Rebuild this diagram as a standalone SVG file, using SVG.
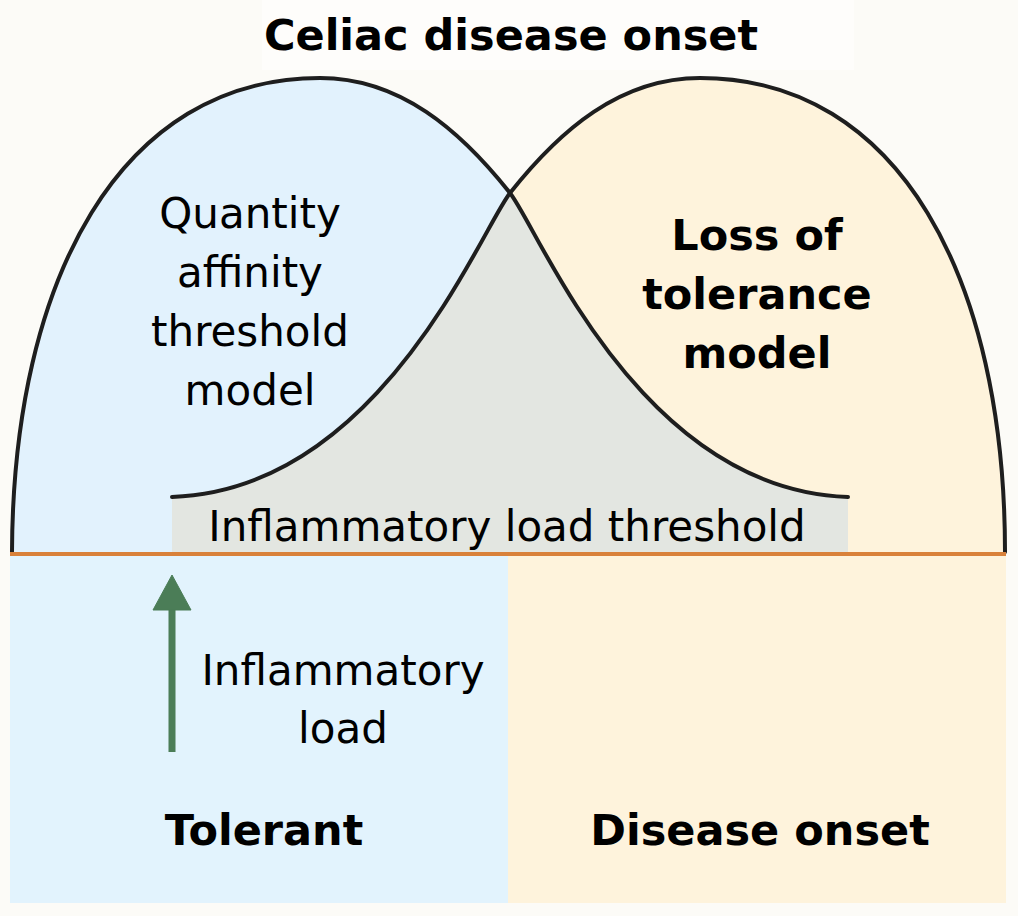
<svg xmlns="http://www.w3.org/2000/svg" width="1018" height="916" viewBox="0 0 1018 916">
<style>
.t{font-family:"DejaVu Sans","Liberation Sans",sans-serif;fill:#000;text-anchor:middle}
.n{font-size:42px}
.b{font-size:43px;font-weight:bold}
.curve{fill:none;stroke:#1e1e1e;stroke-width:4;stroke-linecap:round}
.green{fill:#4b7d57;stroke:#4b7d57}
</style>
<rect x="0" y="0" width="1018" height="916" fill="#fcfbf7"/>
<rect x="262" y="0" width="592" height="70" fill="#fefdfb"/>
<g id="title"><text class="t b" x="511" y="50">Celiac disease onset</text></g>
<g id="fills">
<path id="left-fill" d="M12,552 C13,280 120,78 320,78 C400,78 460,130 510,193 C540,231 640,490 848,497 L848,552 Z" fill="#e2f2fd"/>
<path id="right-fill" d="M1005,552 C1005,280 900,78 700,78 C620,78 560,130 510,193 C480,231 380,490 172,497 L172,552 Z" fill="#fef3dc"/>
<path id="overlap-fill" d="M172,497 C380,490 480,231 510,193 C540,231 640,490 848,497 L848,552 L172,552 Z" fill="#e3e6e1"/>
</g>
<g id="bottom">
<rect id="tolerant-box" x="10" y="556" width="498" height="347" fill="#e2f3fd"/>
<rect id="onset-box" x="508" y="556" width="498" height="347" fill="#fef3dc"/>
</g>
<g id="connectors">
<path class="curve" d="M12,552 C13,280 120,78 320,78 C400,78 460,130 510,193 C540,231 640,490 848,497"/>
<path class="curve" d="M1005,552 C1005,280 900,78 700,78 C620,78 560,130 510,193 C480,231 380,490 172,497"/>
<line x1="10" y1="554" x2="1006" y2="554" stroke="#d9813a" stroke-width="4"/>
<g id="load-arrow">
<line x1="172" y1="752" x2="172" y2="606" stroke="#4b7d57" stroke-width="7"/>
<polygon class="green" points="153,610 172,575 191,610" stroke-width="1"/>
</g>
</g>
<g id="quantity-model"><text class="t n" x="250" y="228">Quantity</text><text class="t n" x="250" y="287">affinity</text><text class="t n" x="250" y="346">threshold</text><text class="t n" x="250" y="405">model</text></g>
<g id="loss-model"><text class="t b" x="757" y="250">Loss of</text><text class="t b" x="757" y="309">tolerance</text><text class="t b" x="757" y="368">model</text></g>
<g id="threshold"><text class="t n" x="507" y="541">Inflammatory load threshold</text></g>
<g id="load"><text class="t n" x="343" y="685">Inflammatory</text><text class="t n" x="343" y="743">load</text></g>
<g id="tolerant"><text class="t b" x="264" y="845">Tolerant</text></g>
<g id="onset"><text class="t b" x="760" y="845">Disease onset</text></g>
</svg>
